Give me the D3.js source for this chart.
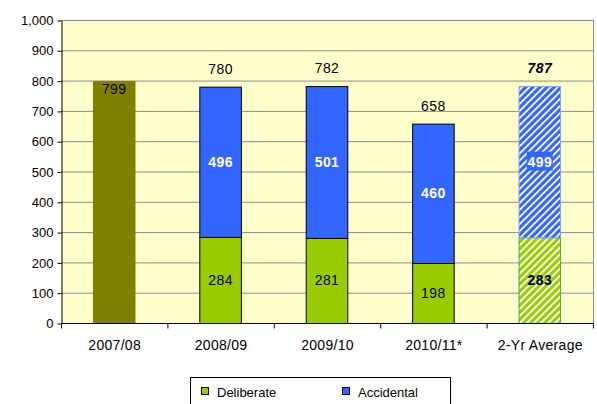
<!DOCTYPE html>
<html><head><meta charset="utf-8">
<script src="https://cdn.jsdelivr.net/npm/d3@7"></script>
<style>body{margin:0;background:#fff}svg{display:block;font-family:"Liberation Sans",Arial,sans-serif}</style>
</head><body>
<svg id="chart" width="597" height="404"></svg>
<script>
const categories = ["2007/08", "2008/09", "2009/10", "2010/11*", "2-Yr Average"];
const combined   = [799, null, null, null, null];
const deliberate = [null, 284, 281, 198, 283];
const accidental = [null, 496, 501, 460, 499];
const totalLabels = [null, 780, 782, 658, 787];
const yTicks = [0,100,200,300,400,500,600,700,800,900,1000];
const seriesNames = ["Deliberate", "Accidental"];

const svg = d3.select("#chart");
const m = {left: 61, top: 20, right: 4, bottom: 81};
const W = 597, H = 404;
const pw = W - m.left - m.right, ph = H - m.top - m.bottom;

const x = d3.scaleBand().domain(categories).range([m.left, m.left + pw]).paddingInner(0.6).paddingOuter(0.3);
const xb = d3.scaleBand().domain(categories).range([m.left, m.left + pw]);
const y = d3.scaleLinear().domain([0, 1000]).range([m.top + ph, m.top]);

const defs = svg.append("defs");
function hatch(id, color) {
  const p = defs.append("pattern").attr("id", id).attr("patternUnits", "userSpaceOnUse")
    .attr("width", 5).attr("height", 5).attr("patternTransform", "rotate(45)");
  p.append("rect").attr("width", 5).attr("height", 5).attr("fill", color);
  p.append("rect").attr("width", 1.8).attr("height", 5).attr("fill", "#ffffff");
}
hatch("hBlue", "#3366FF");
hatch("hGreen", "#99CC00");

// plot background
svg.append("rect").attr("x", m.left).attr("y", m.top).attr("width", pw).attr("height", ph).attr("fill", "#FFFFCC");

// gridlines
svg.append("g").selectAll("line").data(yTicks.filter(d => d > 0)).join("line")
  .attr("x1", m.left).attr("x2", m.left + pw)
  .attr("y1", d => y(d) + 0.5).attr("y2", d => y(d) + 0.5)
  .attr("stroke", "#8c8c8c").attr("stroke-width", 1);
// right border
svg.append("line").attr("x1", m.left + pw + 0.5).attr("x2", m.left + pw + 0.5)
  .attr("y1", m.top).attr("y2", m.top + ph).attr("stroke", "#8c8c8c");

const isAvg = i => i === categories.length - 1;

// combined bar
svg.append("g").selectAll("rect").data(categories.map((c, i) => ({c, v: combined[i]})).filter(d => d.v != null)).join("rect")
  .attr("x", d => x(d.c)).attr("width", x.bandwidth())
  .attr("y", d => y(d.v)).attr("height", d => y(0) - y(d.v))
  .attr("fill", "#808000");

// stacked bars
const rows = categories.map((c, i) => ({c, i, Deliberate: deliberate[i], Accidental: accidental[i]})).filter(d => d.Deliberate != null);
const stack = d3.stack().keys(seriesNames)(rows);
const solid = {Deliberate: "#99CC00", Accidental: "#3366FF"};
const hatchFill = {Deliberate: "url(#hGreen)", Accidental: "url(#hBlue)"};
const hatchStroke = {Deliberate: "#4da64d", Accidental: "#7fa0ff"};
stack.forEach(s => {
  svg.append("g").selectAll("rect").data(s).join("rect")
    .attr("x", d => x(d.data.c) + 0.5).attr("width", x.bandwidth() - 1)
    .attr("y", d => y(d[1]) + 0.5).attr("height", d => y(d[0]) - y(d[1]))
    .attr("fill", d => isAvg(d.data.i) ? hatchFill[s.key] : solid[s.key])
    .attr("stroke", d => isAvg(d.data.i) ? hatchStroke[s.key] : "#000")
    .attr("stroke-width", 1);
});

// axes
const yAxis = d3.axisLeft(y).tickValues(yTicks).tickFormat(d3.format(",")).tickSize(4).tickSizeOuter(0);
const gy = svg.append("g").attr("transform", `translate(${m.left + 0.5},0.5)`).call(yAxis);
gy.selectAll("text").attr("font-size", 13).attr("fill", "#000").attr("font-family", "Liberation Sans, Arial, sans-serif").attr("dx", -1);
gy.select(".domain").attr("stroke", "#000");
gy.selectAll(".tick line").attr("stroke", "#000");

const gx = svg.append("g").attr("transform", `translate(0.5,${m.top + ph + 0.5})`);
gx.append("line").attr("x1", m.left).attr("x2", m.left + pw).attr("stroke", "#000");
gx.selectAll("line.t").data(categories.map(c => xb(c)).concat([m.left + pw])).join("line").attr("class", "t")
  .attr("x1", d => d).attr("x2", d => d).attr("y1", 0).attr("y2", 5).attr("stroke", "#000");
gx.selectAll("text").data(categories).join("text")
  .attr("x", d => xb(d) + xb.bandwidth() / 2).attr("y", 26)
  .attr("text-anchor", "middle").attr("font-size", 14).attr("letter-spacing", 0.3).attr("fill", "#000").text(d => d);

// labels
const lab = svg.append("g").attr("font-size", 14).attr("letter-spacing", 0.4).attr("text-anchor", "middle");
categories.forEach((c, i) => {
  const cx = x(c) + x.bandwidth() / 2;
  if (combined[i] != null) {
    lab.append("text").attr("x", cx).attr("y", y(combined[i]) + 13).text(combined[i]);
  }
  if (deliberate[i] != null) {
    lab.append("text").attr("x", cx).attr("y", y(deliberate[i] / 2) + 5)
      .attr("font-weight", isAvg(i) ? "bold" : "normal").text(deliberate[i]);
    const am = y(deliberate[i] + accidental[i] / 2);
    if (isAvg(i)) {
      lab.append("rect").attr("x", cx - 13).attr("y", am - 10).attr("width", 26).attr("height", 19).attr("fill", "#3366FF");
    }
    lab.append("text").attr("x", cx).attr("y", am + 5).attr("fill", "#fff").attr("font-weight", "bold").text(accidental[i]);
  }
  if (totalLabels[i] != null) {
    lab.append("text").attr("x", cx).attr("y", y(deliberate[i] + accidental[i]) - 13)
      .attr("font-weight", isAvg(i) ? "bold" : "normal").attr("font-style", isAvg(i) ? "italic" : "normal")
      .text(totalLabels[i]);
  }
});

// legend
const lg = svg.append("g");
lg.append("rect").attr("x", 190.5).attr("y", 377.5).attr("width", 260).attr("height", 40).attr("fill", "#fff").attr("stroke", "#000");
const legX = [201, 342];
seriesNames.forEach((n, i) => {
  lg.append("rect").attr("x", legX[i] + 0.5).attr("y", 387.5).attr("width", 7).attr("height", 7)
    .attr("fill", solid[n]).attr("stroke", "#000");
  lg.append("text").attr("x", legX[i] + 16).attr("y", 396.5).attr("font-size", 13).text(n);
});
</script>
</body></html>
